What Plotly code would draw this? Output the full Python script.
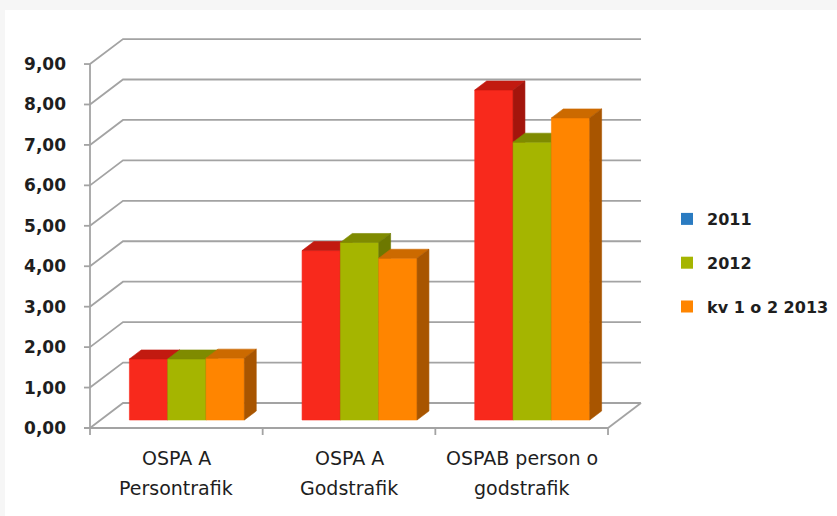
import plotly.graph_objects as go

# ---- data -------------------------------------------------------------
categories = ["OSPA A<br>Persontrafik", "OSPA A<br>Godstrafik", "OSPAB person o<br>godstrafik"]
series_names = ["2011", "2012", "kv 1 o 2 2013"]
values_2011 = [1.51, 4.19, 8.16]
values_2012 = [1.51, 4.39, 6.87]
values_2013 = [1.53, 4.00, 7.47]
y_ticks = [0, 1, 2, 3, 4, 5, 6, 7, 8, 9]

series_values = [values_2011, values_2012, values_2013]

# ---- styling ----------------------------------------------------------
front_colors = ["#F8291C", "#A5B500", "#FF8500"]
top_colors = ["#C21A10", "#7F8B00", "#CC6A00"]
side_colors = ["#A3150C", "#6D7800", "#A85500"]
legend_colors = ["#2A7BC1", "#A5B500", "#FF8500"]
grid_color = "#A3A3A3"
text_color = "#1E1E1E"

W, H = 837, 516
ML, MR, MT, MB = 84, 192, 35, 78
PLOT_W = W - ML - MR
PLOT_H = H - MT - MB
AXIS_PX = 90          # pixel column of the front value axis
FLOOR_PX = 428        # pixel row of the front floor (value 0)
PX_CAT = 172.67       # pixels per category on the front plane
PX_VAL = 40.44        # pixels per value unit

# oblique depth offset of the back wall, in axis units
DX = 33 / PX_CAT
DY = 25 / PX_VAL
BAR_Z0 = 0.32         # depth where the bar front faces stand
BAR_DZ = 0.36         # bar depth as a fraction of the floor depth
BAR_W = 0.222         # bar width in category units

x_range = [(ML - AXIS_PX) / PX_CAT, (W - MR - AXIS_PX) / PX_CAT]
y_range = [-((H - MB) - FLOOR_PX) / PX_VAL, (FLOOR_PX - MT) / PX_VAL]
n_cat = len(categories)


def px_to_paper(px, py):
    return (px - ML) / PLOT_W, ((H - MB) - py) / PLOT_H


fig = go.Figure()


def line_trace(xs, ys, width=1.8):
    fig.add_trace(go.Scatter(x=xs, y=ys, mode="lines", hoverinfo="skip",
                             line=dict(color=grid_color, width=width),
                             showlegend=False))


# back wall grid lines with their diagonal run to the front axis
gx, gy = [], []
for v in y_ticks:
    gx += [0, DX, n_cat + DX, None]
    gy += [v, v + DY, v + DY, None]
# right edge of the floor
gx += [n_cat, n_cat + DX, None]
gy += [0, DY, None]
line_trace(gx, gy)

# front value axis, its ticks, the front floor edge and category ticks
tick_dx = 6 / PX_CAT
tick_dy = 7 / PX_VAL
ax, ay = [0, 0, None], [y_ticks[-1], -tick_dy, None]
for v in y_ticks:
    ax += [-tick_dx, 0, None]
    ay += [v, v, None]
ax += [-tick_dx, n_cat, None]
ay += [0, 0, None]
for i in range(1, n_cat + 1):
    ax += [i, i, None]
    ay += [0, -tick_dy, None]
line_trace(ax, ay)


def poly(xs, ys, color, name):
    fig.add_trace(go.Scatter(x=xs + [xs[0]], y=ys + [ys[0]], mode="lines",
                             fill="toself", fillcolor=color,
                             line=dict(color=color, width=0.6),
                             hoverinfo="skip", name=name, legendgroup=name,
                             showlegend=False))


# 3D columns: front face, top face and right side, painted left to right
base = BAR_Z0 * DY
shift = BAR_Z0 * DX
ddx, ddy = BAR_DZ * DX, BAR_DZ * DY
for c in range(n_cat):
    for s, vals in enumerate(series_values):
        v = vals[c]
        xl = c + 0.5 + (s - 1.5) * BAR_W + shift
        xr = xl + BAR_W
        top = base + v
        poly([xl, xr, xr, xl], [base, base, top, top], front_colors[s], series_names[s])
        poly([xl, xr, xr + ddx, xl + ddx], [top, top, top + ddy, top + ddy],
             top_colors[s], series_names[s])
        poly([xr, xr + ddx, xr + ddx, xr], [base, base + ddy, top + ddy, top],
             side_colors[s], series_names[s])

# legend entries
for s, name in enumerate(series_names):
    fig.add_trace(go.Bar(x=[None], y=[None], name=name, legendgroup=name,
                         marker=dict(color=legend_colors[s], line=dict(width=0))))

# category labels, two lines each
annotations = []
for c, label in enumerate(categories):
    for k, part in enumerate(label.split("<br>")):
        annotations.append(dict(
            x=c + 0.5, y=0, xref="x", yref="y", text=part, showarrow=False,
            xanchor="center", yanchor="middle", yshift=-30 - 30 * k,
            font=dict(family="DejaVu Sans", size=19, color=text_color)))

x0p, y0p = px_to_paper(5, 10)
x1p, y1p = px_to_paper(W, H)
leg_x, _ = px_to_paper(667, 0)
_, leg_y = px_to_paper(0, 263)

fig.update_layout(
    width=W, height=H,
    margin=dict(l=ML, r=MR, t=MT, b=MB, pad=0, autoexpand=False),
    paper_bgcolor="#F6F6F6",
    plot_bgcolor="rgba(0,0,0,0)",
    separators=",.",
    barmode="overlay",
    showlegend=True,
    legend=dict(x=leg_x, y=leg_y, xanchor="left", yanchor="middle",
                traceorder="grouped", tracegroupgap=20,
                bgcolor="rgba(0,0,0,0)",
                font=dict(family="DejaVu Sans", size=16, color=text_color,
                          weight="bold")),
    xaxis=dict(range=x_range, showgrid=False, zeroline=False, showline=False,
               showticklabels=False, ticks="", fixedrange=True),
    yaxis=dict(range=y_range, showgrid=False, zeroline=False, showline=False,
               tickvals=y_ticks, tickformat=".2f", ticks="",
               ticklabelstandoff=17,
               tickfont=dict(family="DejaVu Sans", size=17, color=text_color,
                             weight="bold"),
               fixedrange=True),
    shapes=[dict(type="rect", xref="paper", yref="paper", layer="below",
                 x0=x0p, y0=y1p, x1=x1p, y1=y0p,
                 fillcolor="white", line=dict(width=0))],
    annotations=annotations,
)

fig.write_html("out.html")
